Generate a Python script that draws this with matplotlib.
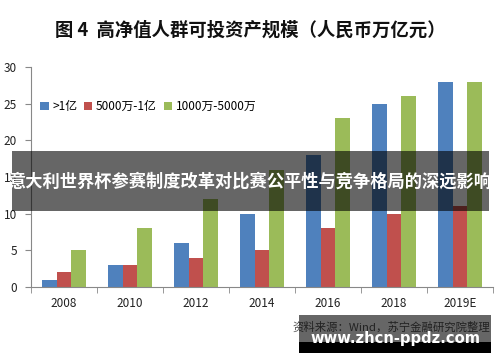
import matplotlib
matplotlib.use("Agg")
import matplotlib.pyplot as plt
from matplotlib.patches import Rectangle
import numpy as np

plt.rcParams['font.family'] = ['Noto Sans CJK SC', 'DejaVu Sans']

years = ["2008", "2010", "2012", "2014", "2016", "2018", "2019E"]
above_1yi = [1, 3, 6, 10, 18, 25, 28]
w5000_1yi = [2, 3, 4, 5, 8, 10, 11]
w1000_5000 = [5, 8, 12, 16, 23, 26, 28]
series_names = [">1亿", "5000万-1亿", "1000万-5000万"]
colors = ["#4F81BD", "#C0504D", "#9BBB59"]
yticks = [0, 5, 10, 15, 20, 25, 30]

title = "图 4  高净值人群可投资产规模（人民币万亿元）"
band_text = "意大利世界杯参赛制度改革对比赛公平性与竞争格局的深远影响"
source_text = "资料来源：Wind，苏宁金融研究院整理"
watermark = "www.zhcn-ppdz.com"

fig = plt.figure(figsize=(5.0, 3.62), dpi=100)
ax = fig.add_axes([0.062, 0.2072, 0.924, 0.6077])

x = np.arange(len(years))
bw = 0.222
for i, (vals, name, c) in enumerate(zip([above_1yi, w5000_1yi, w1000_5000], series_names, colors)):
    ax.bar(x + (i - 1) * bw, vals, width=bw, color=c, label=name, zorder=2)

ax.set_xlim(-0.5, len(years) - 0.5)
ax.set_ylim(0, 30)
ax.set_yticks(yticks)
ax.set_xticks(x)
ax.set_xticklabels(years)
ax.set_xticks(np.arange(-0.5, len(years) - 0.4, 1.0), minor=True)
ax.tick_params(axis='x', which='major', length=0, labelsize=8.5, pad=7, colors='#222222')
ax.tick_params(axis='x', which='minor', length=4, color='#888888', direction='out')
ax.tick_params(axis='y', length=4, color='#888888', labelsize=8.5, pad=6, labelcolor='#222222')
for s in ['top', 'right']:
    ax.spines[s].set_visible(False)
for s in ['left', 'bottom']:
    ax.spines[s].set_color('#888888')
    ax.spines[s].set_linewidth(0.8)

leg = ax.legend(loc='lower left', bbox_to_anchor=(0.01, 0.77), ncol=3, frameon=False,
                fontsize=8.5, handlelength=0.7, handleheight=0.7, handletextpad=0.3,
                columnspacing=0.6, borderaxespad=0)

fig.text(0.5, 1 - 30 / 362, title, ha='center', va='center', fontsize=13.2,
         fontweight='bold', color='#111111')

# semi-transparent band overlay
fig.patches.append(Rectangle((12 / 500, 1 - 211 / 362), 477 / 500, 60 / 362,
                             transform=fig.transFigure, facecolor='black', alpha=0.6,
                             edgecolor='none', zorder=10))
fig.text(250 / 500, 1 - 182 / 362, band_text, ha='center', va='center', fontsize=12.4,
         fontweight='bold', color='white', zorder=11)

# source text
fig.text(490 / 500, 1 - 327 / 362, source_text, ha='right', va='center', fontsize=8.2,
         style='italic', color='#555555')
# watermark box
fig.patches.append(Rectangle((299 / 500, 1 - 342 / 362), 192 / 500, 27 / 362,
                             transform=fig.transFigure, facecolor='black', alpha=0.6,
                             edgecolor='none', zorder=10))
fig.patches.append(Rectangle((299 / 500, 1 - 353 / 362), 192 / 500, 11 / 362,
                             transform=fig.transFigure, facecolor='black',
                             edgecolor='none', zorder=10))
fig.text(395 / 500, 1 - 338 / 362, watermark, ha='center', va='center', fontsize=10.6,
         fontweight='bold', color='white', zorder=11, family='DejaVu Sans')

fig.savefig("out.png", dpi=100)
